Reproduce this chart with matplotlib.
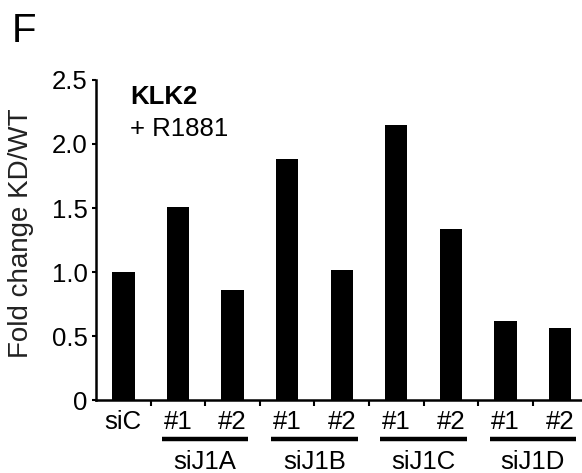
import numpy as np
import matplotlib.pyplot as plt
import matplotlib.transforms as mtransforms

plt.rcParams["font.family"] = ["Liberation Sans", "DejaVu Sans"]

#################### DATA ####################
bar_labels = ["siC", "#1", "#2", "#1", "#2", "#1", "#2", "#1", "#2"]
fold_change = [1.0, 1.51, 0.86, 1.88, 1.02, 2.15, 1.34, 0.62, 0.56]
groups = ["siJ1A", "siJ1B", "siJ1C", "siJ1D"]
group_bars = [(1, 2), (3, 4), (5, 6), (7, 8)]
yticks = [0, 0.5, 1.0, 1.5, 2.0, 2.5]
ytick_labels = ["0", "0.5", "1.0", "1.5", "2.0", "2.5"]
################## END DATA ##################

fs = 18.5

fig = plt.figure(figsize=(5.82, 4.73), dpi=100)
ax = fig.add_axes([0.165, 0.154, 0.833, 0.677])

x = np.arange(len(fold_change))
ax.bar(x, fold_change, width=0.41, color="black")

ax.set_xlim(-0.5, 8.38)
ax.set_ylim(0, 2.5)

ax.set_yticks(yticks)
ax.set_yticklabels(ytick_labels, fontsize=fs)
ax.set_xticks(x[:-1] + 0.5)
ax.set_xticklabels([])
ax.tick_params(axis="y", length=3, width=1.5, pad=3)
ax.tick_params(axis="x", length=4, width=1.5)

for side in ["top", "right"]:
    ax.spines[side].set_visible(False)
ax.spines["left"].set_linewidth(1.8)
ax.spines["bottom"].set_linewidth(1.8)

trans = mtransforms.blended_transform_factory(ax.transData, ax.transAxes)
for xi, lab in zip(x, bar_labels):
    ax.text(xi, -0.03, lab, transform=trans, ha="center", va="top", fontsize=fs)

for name, (a, b) in zip(groups, group_bars):
    ax.plot([a - 0.29, b + 0.29], [-0.12, -0.12], transform=trans,
            color="black", lw=3.2, clip_on=False, solid_capstyle="butt")
    ax.text((a + b) / 2, -0.155, name, transform=trans, ha="center",
            va="top", fontsize=fs)

ax.set_ylabel("Fold change KD/WT", fontsize=20, color="#222222")
ax.yaxis.set_label_coords(-0.128, 0.52)

ax.text(0.07, 0.985, "KLK2", transform=ax.transAxes, fontsize=fs,
        fontweight="bold", va="top")
ax.text(0.07, 0.885, "+ R1881", transform=ax.transAxes, fontsize=fs, va="top")

fig.text(0.02, 0.975, "F", fontsize=29, va="top")

fig.savefig("out.png", dpi=100)
